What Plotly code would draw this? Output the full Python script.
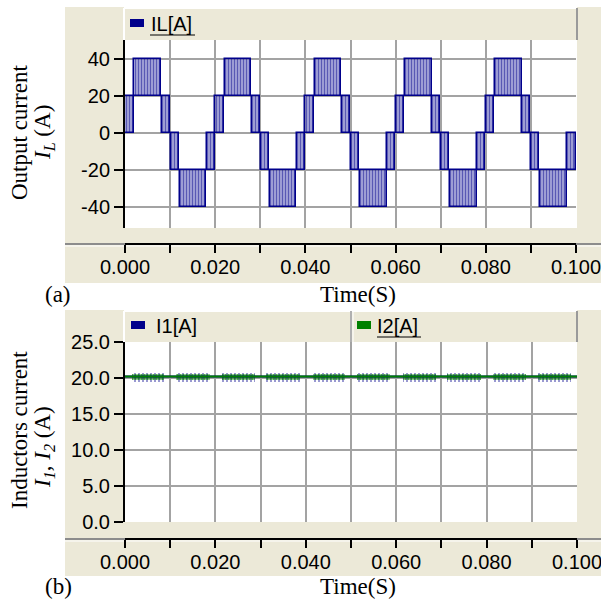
import plotly.graph_objects as go

# ---------------- data ----------------
# (a) output current I_L : PWM switching bands (time [s], current [A])
IL_START = [0.0000, 0.0021, 0.0081, 0.0101, 0.0121, 0.0181,
            0.0200, 0.0221, 0.0281, 0.0301, 0.0321, 0.0381,
            0.0400, 0.0421, 0.0481, 0.0501, 0.0521, 0.0581,
            0.0600, 0.0621, 0.0681, 0.0701, 0.0721, 0.0781,
            0.0800, 0.0821, 0.0881, 0.0901, 0.0921, 0.0981]
IL_END = [0.0019, 0.0080, 0.0099, 0.0119, 0.0180, 0.0199,
          0.0219, 0.0280, 0.0299, 0.0319, 0.0380, 0.0399,
          0.0419, 0.0480, 0.0499, 0.0519, 0.0580, 0.0599,
          0.0619, 0.0680, 0.0699, 0.0719, 0.0780, 0.0799,
          0.0819, 0.0880, 0.0899, 0.0919, 0.0980, 0.1000]
IL_LOW = [0, 20, 0, -20, -40, -20,
          0, 20, 0, -20, -40, -20,
          0, 20, 0, -20, -40, -20,
          0, 20, 0, -20, -40, -20,
          0, 20, 0, -20, -40, -20]
IL_HIGH = [20, 40, 20, 0, -20, 0,
           20, 40, 20, 0, -20, 0,
           20, 40, 20, 0, -20, 0,
           20, 40, 20, 0, -20, 0,
           20, 40, 20, 0, -20, 0]

# (b) inductor currents I1, I2 : mean level and ripple patches
BASE_T = [0.0, 0.1]
I1_BASE = [20.2, 20.2]
I2_BASE = [20.2, 20.2]
RIP_START = [0.0015, 0.0113, 0.0215, 0.0313, 0.0415, 0.0513, 0.0615, 0.0713, 0.0815, 0.0913]
RIP_END = [0.0087, 0.0187, 0.0287, 0.0387, 0.0487, 0.0587, 0.0687, 0.0787, 0.0887, 0.0987]
I1_RIP_LOW = [19.5, 19.5, 19.5, 19.5, 19.5, 19.5, 19.5, 19.5, 19.5, 19.5]
I1_RIP_HIGH = [20.7, 20.7, 20.7, 20.7, 20.7, 20.7, 20.7, 20.7, 20.7, 20.7]
I2_RIP_LOW = [19.7, 19.7, 19.7, 19.7, 19.7, 19.7, 19.7, 19.7, 19.7, 19.7]
I2_RIP_HIGH = [20.6, 20.6, 20.6, 20.6, 20.6, 20.6, 20.6, 20.6, 20.6, 20.6]

X_TICKS = [0.00, 0.01, 0.02, 0.03, 0.04, 0.05, 0.06, 0.07, 0.08, 0.09, 0.10]
X_TICK_TEXT = ["0.000", "", "0.020", "", "0.040", "", "0.060", "", "0.080", "", "0.100"]
Y1_TICKS = [-40, -20, 0, 20, 40]
Y1_TICK_TEXT = ["-40", "-20", "0", "20", "40"]
Y2_TICKS = [0, 5, 10, 15, 20, 25]
Y2_TICK_TEXT = ["0.0", "5.0", "10.0", "15.0", "20.0", "25.0"]

# ---------------- styling helpers ----------------
W, H = 601, 603
BEIGE = "#ECE9D8"
GRID = "#A3A3A3"
NAVY = "#00008B"
GREEN = "#008000"
SANS = "Liberation Sans, Arial, sans-serif"
SERIF = "Liberation Serif, Times New Roman, serif"
TICK_SIZE = 20
SERIF_SIZE = 23


def px(x):
    return x / W


def py(y):
    return 1 - y / H


fig = go.Figure()

# top panel bands (hatched like dense PWM switching)
fig.add_trace(go.Bar(
    x=[(s + e) / 2 for s, e in zip(IL_START, IL_END)],
    width=[e - s for s, e in zip(IL_START, IL_END)],
    base=IL_LOW,
    y=[h - l for l, h in zip(IL_LOW, IL_HIGH)],
    marker=dict(color=NAVY,
                line=dict(color=NAVY, width=1.5),
                pattern=dict(shape="|", fgcolor=NAVY, bgcolor="rgba(105,105,190,0.5)",
                             size=3, solidity=0.5)),
    xaxis="x", yaxis="y", showlegend=False, hoverinfo="skip"))

# bottom panel
fig.add_trace(go.Scatter(x=BASE_T, y=I1_BASE, mode="lines", line=dict(color=NAVY, width=2),
                         xaxis="x2", yaxis="y2", showlegend=False))
fig.add_trace(go.Bar(
    x=[(s + e) / 2 for s, e in zip(RIP_START, RIP_END)],
    width=[e - s for s, e in zip(RIP_START, RIP_END)],
    base=I1_RIP_LOW,
    y=[h - l for l, h in zip(I1_RIP_LOW, I1_RIP_HIGH)],
    marker=dict(color=NAVY, line=dict(width=0),
                pattern=dict(shape="|", fgcolor=NAVY, bgcolor="rgba(0,0,0,0)", size=4, solidity=0.4)),
    xaxis="x2", yaxis="y2", showlegend=False, hoverinfo="skip"))
fig.add_trace(go.Scatter(x=BASE_T, y=I2_BASE, mode="lines", line=dict(color=GREEN, width=2),
                         xaxis="x2", yaxis="y2", showlegend=False))
fig.add_trace(go.Bar(
    x=[(s + e) / 2 for s, e in zip(RIP_START, RIP_END)],
    width=[e - s for s, e in zip(RIP_START, RIP_END)],
    base=I2_RIP_LOW,
    y=[h - l for l, h in zip(I2_RIP_LOW, I2_RIP_HIGH)],
    marker=dict(color=GREEN, line=dict(width=0),
                pattern=dict(shape="|", fgcolor=GREEN, bgcolor="rgba(0,128,0,0.35)", size=3, solidity=0.5)),
    xaxis="x2", yaxis="y2", showlegend=False, hoverinfo="skip"))

xcommon = dict(range=[0, 0.1], tickmode="array", tickvals=X_TICKS, ticktext=X_TICK_TEXT,
               showgrid=True, gridcolor=GRID, gridwidth=2, zeroline=False,
               showline=True, linecolor="black", linewidth=2,
               ticks="outside", ticklen=8, tickwidth=2, tickcolor="black",
               tickfont=dict(family=SANS, size=TICK_SIZE, color="black"), anchor="free",
               automargin=False, ticklabeloverflow="allow", ticklabelstandoff=-3)
ycommon = dict(showgrid=True, gridcolor=GRID, gridwidth=2, zeroline=False,
               showline=True, linecolor="black", linewidth=2, ticks="outside", ticklen=9,
               tickwidth=2, tickcolor="black", tickfont=dict(family=SANS, size=TICK_SIZE, color="black"),
               tickmode="array", automargin=False)

TOP_AXIS_Y = 244
BOT_AXIS_Y = 539

fig.update_layout(
    width=W, height=H, margin=dict(l=0, r=0, t=0, b=0, pad=0, autoexpand=False),
    paper_bgcolor="white", plot_bgcolor="white", barmode="overlay", bargap=0,
    xaxis=dict(domain=[px(125), px(576)], position=py(TOP_AXIS_Y), **xcommon),
    yaxis=dict(domain=[py(228), py(40)], range=[-51.4, 50.3], tickvals=Y1_TICKS,
               ticktext=Y1_TICK_TEXT, **ycommon),
    xaxis2=dict(domain=[px(125), px(577)], position=py(BOT_AXIS_Y), **xcommon),
    yaxis2=dict(domain=[py(522), py(342)], range=[0, 25], tickvals=Y2_TICKS,
                ticktext=Y2_TICK_TEXT, **ycommon),
)

shapes = []


def rect(x0, y0, x1, y1, color, layer="below"):
    shapes.append(dict(type="rect", xref="paper", yref="paper", x0=px(x0), x1=px(x1),
                       y0=py(y1), y1=py(y0), fillcolor=color, line=dict(width=0), layer=layer))


def line(x0, y0, x1, y1, color, width=1, layer="below"):
    shapes.append(dict(type="line", xref="paper", yref="paper", x0=px(x0), x1=px(x1),
                       y0=py(y0), y1=py(y1), line=dict(color=color, width=width), layer=layer))


for (top, legend_bottom, plot_bottom, axis_y, bottom) in [(7, 40, 228, TOP_AXIS_Y, 283),
                                                          (310, 342, 522, BOT_AXIS_Y, 576)]:
    rect(65, top, 601, bottom, BEIGE)
    rect(125, legend_bottom, 577, plot_bottom, "white")
    line(124, top + 1, 577, top + 1, "white", 2)
    line(124, top + 1, 124, legend_bottom, "white", 2)
    line(577, top + 1, 577, legend_bottom, "#9A9A9A", 2)
    line(65, axis_y, 601, axis_y, "#8C8C8C", 2)
    line(65, axis_y + 2, 601, axis_y + 2, "white", 1)

# legend separator in panel (b)
line(351, 311, 351, 342, "#B0B0B0", 2)
line(353, 311, 353, 342, "white", 1)

# legend swatches
rect(130, 19, 144, 27, NAVY, "above")
rect(131, 321, 145, 329, NAVY, "above")
rect(357, 321, 371, 329, GREEN, "above")
# underlines of legend labels
line(150, 35, 195, 35, "black", 1, "above")
line(377, 337, 421, 337, "black", 1, "above")

fig.update_layout(shapes=shapes)

ann = []


def text(x, y, s, font, size, angle=0, xanchor="center"):
    ann.append(dict(x=px(x), y=py(y), xref="paper", yref="paper", text=s, showarrow=False,
                    xanchor=xanchor, yanchor="middle", textangle=angle,
                    font=dict(family=font, size=size, color="black")))


text(149, 24, "IL[A]", SANS, TICK_SIZE, xanchor="left")
text(154, 326, "I1[A]", SANS, TICK_SIZE, xanchor="left")
text(375, 326, "I2[A]", SANS, TICK_SIZE, xanchor="left")
text(58, 294, "(a)", SERIF, SERIF_SIZE)
text(358, 294, "Time(S)", SERIF, SERIF_SIZE)
text(58, 586, "(b)", SERIF, SERIF_SIZE)
text(358, 586, "Time(S)", SERIF, SERIF_SIZE)
text(19, 133, "Output current", SERIF, SERIF_SIZE, -90)
text(44, 133, "<i>I<sub>L</sub></i> (A)", SERIF, SERIF_SIZE, -90)
text(19, 430, "Inductors current", SERIF, SERIF_SIZE, -90)
text(44, 447, "<i>I<sub>1</sub></i>, <i>I<sub>2</sub></i> (A)", SERIF, SERIF_SIZE, -90)
fig.update_layout(annotations=ann)

# remove the default page margin so the 601x603 figure fills the window exactly
fig.write_html("out.html", config={"displayModeBar": False},
               post_script="document.body.style.margin='0px';")
